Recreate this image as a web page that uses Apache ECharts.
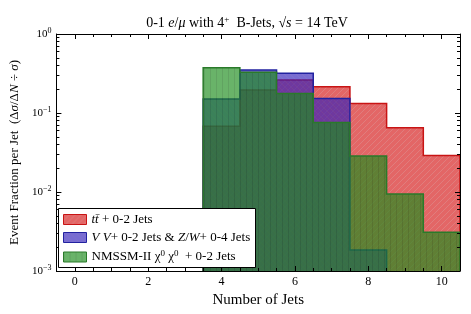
<!DOCTYPE html>
<html><head><meta charset="utf-8">
<script src="https://cdn.jsdelivr.net/npm/echarts@6/dist/echarts.min.js"></script>
<style>html,body{margin:0;padding:0;background:#fff}#c{width:471px;height:314px}</style>
</head><body><div id="c"></div>
<script>
// ---- data ----
const bins = [4, 5, 6, 7, 8, 9, 10];
const ttbar = [0.068, 0.195, 0.262, 0.215, 0.132, 0.065, 0.029];
const vv = [0.150, 0.350, 0.318, 0.153, 0.00185, null, null];
const nmssm = [0.375, 0.327, 0.177, 0.076, 0.0286, 0.0094, 0.0031];
const seriesNames = ['ttbar', 'vv', 'nmssm'];
const xTickLabels = [0, 2, 4, 6, 8, 10];
const xMinorTicks = [-0.5,0,0.5,1,1.5,2,2.5,3,3.5,4,4.5,5,5.5,6,6.5,7,7.5,8,8.5,9,9.5,10,10.5];
const yTickLabels = [0.001, 0.01, 0.1, 1];
const yMinorTicks = [];
[0.001, 0.01, 0.1].forEach(d => { for (let k = 2; k <= 9; k++) yMinorTicks.push(+(d * k).toPrecision(3)); });

const SERIF = '"Liberation Serif","DejaVu Serif",serif';

function makePattern(base, line, kind) {
  const s = 6;
  const c = document.createElement('canvas'); c.width = s; c.height = s;
  const g = c.getContext('2d');
  g.fillStyle = base; g.fillRect(0, 0, s, s);
  g.fillStyle = line;
  for (let i = 0; i < s; i++) {
    if (kind === '/') { g.clearRect(i, s - 1 - i, 1, 1); g.fillRect(i, s - 1 - i, 1, 1); }
    else if (kind === '\\') { g.clearRect(i, i, 1, 1); g.fillRect(i, i, 1, 1); }
    else { g.clearRect(0, i, 1, 1); g.fillRect(0, i, 1, 1); }
  }
  return { image: c, repeat: 'repeat' };
}

const styles = {
  ttbar: { fill: makePattern('rgba(212,20,20,0.65)', 'rgba(205,45,45,0.62)', '/'), stroke: '#c81414' },
  vv: { fill: makePattern('rgba(50,32,186,0.66)', 'rgba(62,42,176,0.66)', '\\'), stroke: '#2222a0' },
  nmssm: { fill: makePattern('rgba(28,140,28,0.66)', 'rgba(22,120,22,0.68)', '|'), stroke: '#2a7a2a' }
};
const valuesOf = { ttbar: ttbar, vv: vv, nmssm: nmssm };
const labels = {
  ttbar: '{i|tt̄} + 0-2 Jets',
  vv: '{i|V V}+ 0-2 Jets & {i|Z}/{i|W}+ 0-4 Jets',
  nmssm: 'NMSSM-II χ{s|0} χ{s|0}  + 0-2 Jets'
};

function makeRender(vals, st) {
  return function (params, api) {
    if (params.dataIndex !== 0) return null;
    const line = [];
    for (let i = 0; i < bins.length; i++) {
      const v = vals[i]; if (v == null) continue;
      line.push(api.coord([bins[i] - 0.5, v]), api.coord([bins[i] + 0.5, v]));
    }
    const yb = api.coord([bins[0], yTickLabels[0]])[1];
    const poly = [[line[0][0], yb]].concat(line, [[line[line.length - 1][0], yb]]);
    return { type: 'group', children: [
      { type: 'polygon', shape: { points: poly }, style: { fill: st.fill, stroke: null } },
      { type: 'polyline', shape: { points: poly }, style: { fill: null, stroke: st.stroke, lineWidth: 1.5 } }
    ] };
  };
}

const xBase = { type: 'value', min: -0.5, max: 10.5, gridIndex: 0, splitLine: { show: false }, z: 10 };
const yBase = { type: 'log', logBase: 10, min: 0.001, max: 1, gridIndex: 0, splitLine: { show: false }, z: 10 };
const lineStyle = { color: '#000', width: 1 };

const option = {
  animation: false,
  backgroundColor: '#fff',
  title: {
    text: '0-1 {i|e}/{i|μ} with 4{s|+}  B-Jets, √{i|s} = 14 TeV',
    left: 242, top: 10, textAlign: 'center',
    textStyle: { fontFamily: SERIF, fontSize: 14, fontWeight: 'normal', color: '#000',
      rich: { i: { fontFamily: SERIF, fontSize: 14, fontStyle: 'italic' },
              s: { fontFamily: SERIF, fontSize: 9, padding: [0, 0, 8, 0] } } }
  },
  grid: { left: 53, right: 11, top: 34, bottom: 43 },
  graphic: [{ type: 'rect', left: 58, top: 208, z: 40, shape: { width: 197, height: 59 },
    style: { fill: '#fff', stroke: '#000', lineWidth: 1 } }],
  legend: {
    orient: 'vertical', left: 58, top: 209, z: 50,
    itemWidth: 23, itemHeight: 10, itemGap: 5,
    padding: [4, 6, 4, 5],
    data: seriesNames.map(n => ({ name: n, icon: 'rect',
      itemStyle: { color: styles[n].fill, borderColor: styles[n].stroke, borderWidth: 1 } })),
    formatter: n => labels[n],
    textStyle: { fontFamily: SERIF, fontSize: 13, color: '#000',
      rich: { i: { fontFamily: SERIF, fontSize: 13, fontStyle: 'italic' },
              s: { fontFamily: SERIF, fontSize: 9, padding: [0, 0, 7, 0] } } }
  },
  xAxis: [
    Object.assign({}, xBase, { position: 'bottom',
      name: 'Number of Jets', nameLocation: 'middle', nameGap: 17,
      nameTextStyle: { fontFamily: SERIF, fontSize: 15, color: '#000' },
      axisLine: { show: true, onZero: false, lineStyle: lineStyle },
      axisTick: { show: true, inside: true, length: 5, lineStyle: lineStyle, customValues: xTickLabels },
      axisLabel: { show: true, margin: 5, fontFamily: SERIF, fontSize: 12, color: '#000', customValues: xTickLabels } }),
    Object.assign({}, xBase, { position: 'bottom',
      axisLine: { show: false, onZero: false },
      axisTick: { show: true, inside: true, length: 3, lineStyle: lineStyle, customValues: xMinorTicks },
      axisLabel: { show: false } }),
    Object.assign({}, xBase, { position: 'top',
      axisLine: { show: true, onZero: false, lineStyle: lineStyle },
      axisTick: { show: true, inside: true, length: 5, lineStyle: lineStyle, customValues: xTickLabels },
      axisLabel: { show: false } }),
    Object.assign({}, xBase, { position: 'top',
      axisLine: { show: false, onZero: false },
      axisTick: { show: true, inside: true, length: 3, lineStyle: lineStyle, customValues: xMinorTicks },
      axisLabel: { show: false } })
  ],
  yAxis: [
    Object.assign({}, yBase, { position: 'left',
      name: 'Event Fraction per Jet  (Δ{i|σ}/Δ{i|N} ÷ {i|σ})', nameLocation: 'middle', nameGap: 25, nameRotate: 90,
      nameTextStyle: { fontFamily: SERIF, fontSize: 13, color: '#000',
        rich: { i: { fontFamily: SERIF, fontSize: 13, fontStyle: 'italic' } } },
      axisLine: { show: true, onZero: false, lineStyle: lineStyle },
      axisTick: { show: true, inside: true, length: 5, lineStyle: lineStyle, customValues: yTickLabels },
      axisLabel: { show: true, margin: 5, fontFamily: SERIF, fontSize: 11, color: '#000', customValues: yTickLabels,
        formatter: v => '10{s|' + String(Math.round(Math.log10(v))).replace('-', '−') + '}',
        rich: { s: { fontFamily: SERIF, fontSize: 8, padding: [0, 0, 7, 0] } } } }),
    Object.assign({}, yBase, { position: 'left',
      axisLine: { show: false, onZero: false },
      axisTick: { show: true, inside: true, length: 3, lineStyle: lineStyle, customValues: yMinorTicks },
      axisLabel: { show: false } }),
    Object.assign({}, yBase, { position: 'right',
      axisLine: { show: true, onZero: false, lineStyle: lineStyle },
      axisTick: { show: true, inside: true, length: 5, lineStyle: lineStyle, customValues: yTickLabels },
      axisLabel: { show: false } }),
    Object.assign({}, yBase, { position: 'right',
      axisLine: { show: false, onZero: false },
      axisTick: { show: true, inside: true, length: 3, lineStyle: lineStyle, customValues: yMinorTicks },
      axisLabel: { show: false } })
  ],
  series: seriesNames.map(n => ({
    name: n, type: 'custom', xAxisIndex: 0, yAxisIndex: 0, z: 2,
    renderItem: makeRender(valuesOf[n], styles[n]),
    itemStyle: { color: styles[n].fill, borderColor: styles[n].stroke, borderWidth: 1 },
    encode: { x: 0, y: 1 },
    data: bins.map((b, i) => [b, valuesOf[n][i] == null ? yTickLabels[0] : valuesOf[n][i]]),
    silent: true
  }))
};

const chart = echarts.init(document.getElementById('c'), null, { renderer: 'canvas' });
chart.setOption(option);
</script>
</body></html>
